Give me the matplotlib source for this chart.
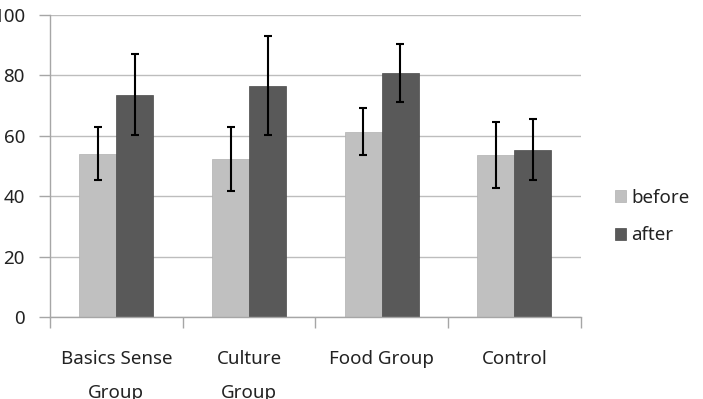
import matplotlib
matplotlib.use("Agg")
import matplotlib.pyplot as plt
import numpy as np

# data
groups = ["Basics Sense\nGroup", "Culture\nGroup", "Food Group", "Control"]
before = [54.1, 52.3, 61.3, 53.5]
after = [73.6, 76.6, 80.8, 55.4]
before_err = [8.8, 10.7, 7.8, 10.9]
after_err = [13.5, 16.5, 9.7, 10.0]

plt.rcParams['font.family'] = ['Noto Sans', 'DejaVu Sans']

fig = plt.figure(figsize=(7.03, 3.99), dpi=100)
ax = fig.add_axes([0.0711, 0.2055, 0.755, 0.757])

x = np.arange(len(groups))
w = 0.279
err_kw = dict(ecolor="black", elinewidth=1.5, capsize=3, capthick=1.5)
ax.bar(x - w / 2, before, w, yerr=before_err, color="#c0c0c0",
       edgecolor="#b0b0b0", linewidth=0.5, label="before", error_kw=err_kw, zorder=2)
ax.bar(x + w / 2, after, w, yerr=after_err, color="#595959",
       edgecolor="#4a4a4a", linewidth=0.5, label="after", error_kw=err_kw, zorder=2)

ax.set_xlim(-0.5, len(groups) - 0.5)
ax.set_ylim(0, 100)
ax.set_yticks(range(0, 101, 20))
ax.grid(axis="y", color="#bdbdbd", linewidth=1)
ax.set_axisbelow(True)

ax.set_xticks(x)
ax.set_xticklabels(groups)
ax.set_xticks(np.arange(-0.5, len(groups), 1), minor=True)
ax.tick_params(axis="x", which="major", length=0, pad=24, labelsize=13.5, colors="#222222")
ax.tick_params(axis="x", which="minor", length=8, color="#a6a6a6", width=1)
ax.tick_params(axis="y", length=8, color="#a6a6a6", width=1, pad=10,
               labelsize=13.5, labelcolor="#222222")
plt.setp(ax.get_xticklabels(), linespacing=2.1)

for s in ["top", "right"]:
    ax.spines[s].set_visible(False)
for s in ["left", "bottom"]:
    ax.spines[s].set_color("#a6a6a6")
    ax.spines[s].set_linewidth(1)

ax.legend(loc="center left", bbox_to_anchor=(1.032, 0.333), frameon=False,
          fontsize=13.5, handlelength=0.6, handleheight=0.6, handletextpad=0.3,
          labelspacing=1.05, labelcolor="#222222")

fig.savefig("out.png", dpi=100)
